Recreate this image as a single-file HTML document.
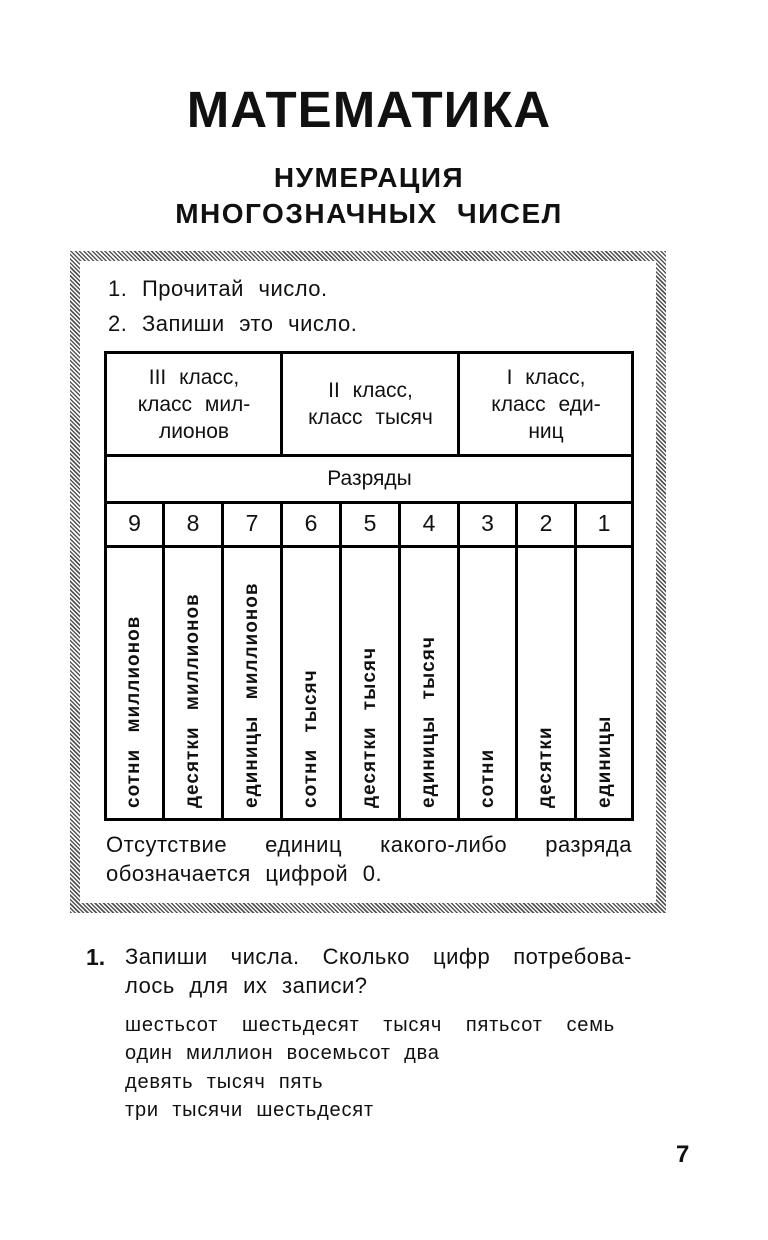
<!DOCTYPE html>
<html><head><meta charset="utf-8"><style>
*{margin:0;padding:0;box-sizing:border-box}
body{width:768px;height:1240px;background:#fff;position:relative;font-family:"Liberation Sans","DejaVu Sans",sans-serif;color:#111;overflow:hidden}
.a{position:absolute;white-space:nowrap}
.j{position:absolute;white-space:nowrap;text-align:justify;text-align-last:justify}
.frame{position:absolute;left:70px;top:251px;width:596px;height:662px;background:repeating-linear-gradient(45deg,#555 0 1.5px,#fff 1.5px 3px)}
.inner{position:absolute;left:80px;top:261px;width:576px;height:642px;background:#fff}
.l{position:absolute;background:#000}
.c{position:absolute;text-align:center;font-size:21px;line-height:27px}
.v{position:absolute;transform:rotate(-90deg);transform-origin:0 0;font-size:19px;font-weight:bold;white-space:nowrap;letter-spacing:1px;word-spacing:10px}
.t{font-size:22px;word-spacing:8px;letter-spacing:0.5px}
.s{font-size:20px;word-spacing:7px;letter-spacing:0.8px}
</style></head><body>
<div class="a" style="left:0;width:738px;text-align:center;top:80px;font-size:51px;font-weight:bold;letter-spacing:1px">МАТЕМАТИКА</div>
<div class="a" style="left:0;width:738px;text-align:center;top:160px;font-size:28px;line-height:36px;font-weight:bold;word-spacing:10px;letter-spacing:1.5px">НУМЕРАЦИЯ<br>МНОГОЗНАЧНЫХ ЧИСЕЛ</div>
<div class="frame"></div><div class="inner"></div>
<div class="a t" style="left:108px;top:276px">1.&nbsp;Прочитай число.</div>
<div class="a t" style="left:108px;top:311px">2.&nbsp;Запиши это число.</div>
<div class="l" style="left:104px;top:351px;width:530px;height:3px"></div>
<div class="l" style="left:104px;top:454px;width:530px;height:3px"></div>
<div class="l" style="left:104px;top:501px;width:530px;height:3px"></div>
<div class="l" style="left:104px;top:545px;width:530px;height:3px"></div>
<div class="l" style="left:104px;top:818px;width:530px;height:3px"></div>
<div class="l" style="left:104px;top:351px;width:3px;height:470px"></div>
<div class="l" style="left:631px;top:351px;width:3px;height:470px"></div>
<div class="l" style="left:280px;top:351px;width:3px;height:105px"></div>
<div class="l" style="left:457px;top:351px;width:3px;height:105px"></div>
<div class="l" style="left:162px;top:501px;width:3px;height:320px"></div>
<div class="l" style="left:221px;top:501px;width:3px;height:320px"></div>
<div class="l" style="left:280px;top:501px;width:3px;height:320px"></div>
<div class="l" style="left:339px;top:501px;width:3px;height:320px"></div>
<div class="l" style="left:398px;top:501px;width:3px;height:320px"></div>
<div class="l" style="left:457px;top:501px;width:3px;height:320px"></div>
<div class="l" style="left:515px;top:501px;width:3px;height:320px"></div>
<div class="l" style="left:574px;top:501px;width:3px;height:320px"></div>
<div class="c" style="left:106px;width:176px;top:364px;word-spacing:7px">III класс,<br>класс мил-<br>лионов</div>
<div class="c" style="left:282px;width:177px;top:377px;word-spacing:7px">II класс,<br>класс тысяч</div>
<div class="c" style="left:459px;width:174px;top:364px;word-spacing:7px">I класс,<br>класс еди-<br>ниц</div>
<div class="c" style="left:106px;width:527px;top:465px">Разряды</div>
<div class="c" style="left:106px;width:57px;top:510px;font-size:23px">9</div>
<div class="c" style="left:164px;width:58px;top:510px;font-size:23px">8</div>
<div class="c" style="left:223px;width:58px;top:510px;font-size:23px">7</div>
<div class="c" style="left:282px;width:58px;top:510px;font-size:23px">6</div>
<div class="c" style="left:341px;width:58px;top:510px;font-size:23px">5</div>
<div class="c" style="left:400px;width:58px;top:510px;font-size:23px">4</div>
<div class="c" style="left:459px;width:57px;top:510px;font-size:23px">3</div>
<div class="c" style="left:517px;width:58px;top:510px;font-size:23px">2</div>
<div class="c" style="left:576px;width:56px;top:510px;font-size:23px">1</div>
<div class="v" style="left:123px;top:808px">сотни миллионов</div>
<div class="v" style="left:182px;top:808px">десятки миллионов</div>
<div class="v" style="left:241px;top:808px">единицы миллионов</div>
<div class="v" style="left:300px;top:808px">сотни тысяч</div>
<div class="v" style="left:359px;top:808px">десятки тысяч</div>
<div class="v" style="left:418px;top:808px">единицы тысяч</div>
<div class="v" style="left:477px;top:808px">сотни</div>
<div class="v" style="left:535px;top:808px">десятки</div>
<div class="v" style="left:594px;top:808px">единицы</div>
<div class="j t" style="left:106px;width:526px;top:832px">Отсутствие единиц какого-либо разряда</div>
<div class="a t" style="left:106px;top:861px">обозначается цифрой 0.</div>
<div class="a" style="left:86px;top:944px;font-size:23px;font-weight:bold">1.</div>
<div class="j t" style="left:125px;width:507px;top:944px">Запиши числа. Сколько цифр потребова-</div>
<div class="a t" style="left:125px;top:973px">лось для их записи?</div>
<div class="j s" style="left:125px;width:490px;top:1014px">шестьсот шестьдесят тысяч пятьсот семь</div>
<div class="a s" style="left:125px;top:1042px">один миллион восемьсот два</div>
<div class="a s" style="left:125px;top:1071px">девять тысяч пять</div>
<div class="a s" style="left:125px;top:1099px">три тысячи шестьдесят</div>
<div class="a" style="left:676px;top:1141px;font-size:24px;font-weight:bold">7</div>
</body></html>
